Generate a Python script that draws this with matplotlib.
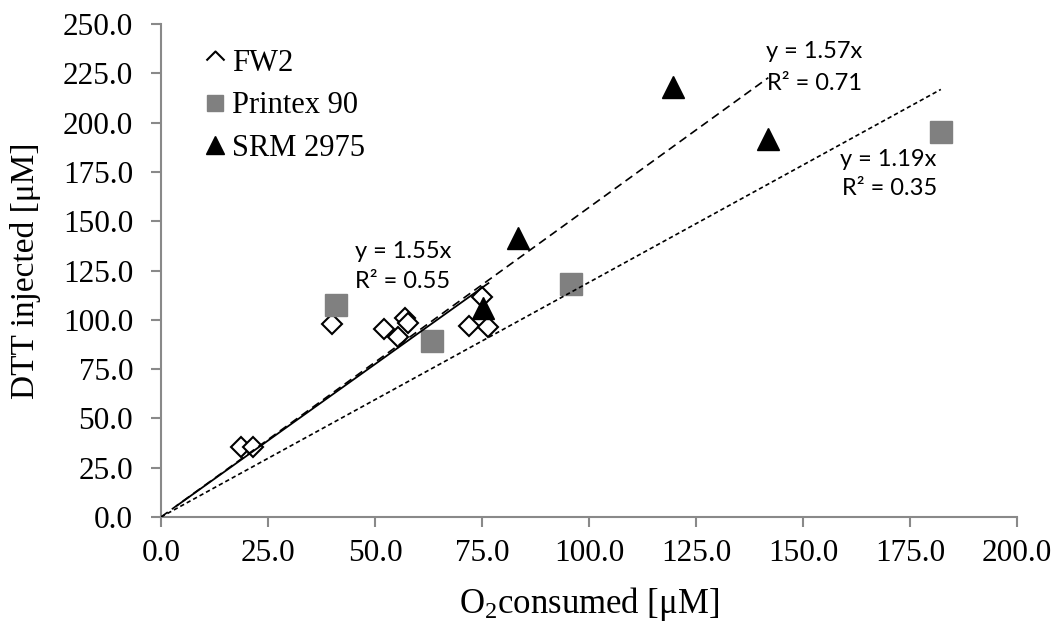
import numpy as np
import matplotlib
matplotlib.use('Agg')
import matplotlib.pyplot as plt
from matplotlib.lines import Line2D
from matplotlib.path import Path

# data
fw2_x = [18.8, 21.4, 40.0, 52.2, 55.4, 56.9, 57.8, 72.0, 75.1, 76.5]
fw2_y = [35.6, 35.3, 97.9, 95.3, 91.4, 100.8, 98.2, 97.0, 111.7, 96.5]

printex_x = [40.9, 63.3, 95.7, 182.2]
printex_y = [107.5, 89.2, 118.2, 195.2]

srm_x = [75.2, 83.4, 119.6, 141.9]
srm_y = [105.8, 141.3, 218.2, 191.5]

# trendlines through origin: slope, x start, x end
fw2_fit = (1.55, 3.7, 76.5)
printex_fit = (1.19, 0.0, 182.2)
srm_fit = (1.57, 0.0, 141.9)

serif = ['Liberation Serif', 'DejaVu Serif']
sans = ['Lato', 'DejaVu Sans']
axis_grey = '#898989'

plt.rcParams['mathtext.fontset'] = 'custom'
plt.rcParams['mathtext.rm'] = 'Liberation Serif'
plt.rcParams['mathtext.it'] = 'Liberation Serif:italic'

fig = plt.figure(figsize=(10.55, 6.22), dpi=100)
ax = fig.add_axes([0.1526, 0.1688, 0.8114, 0.7926])

ax.plot(fw2_x, fw2_y, linestyle='none', marker='D', ms=10.5, mfc='white',
        mec='black', mew=1.5, zorder=3)
ax.plot(printex_x, printex_y, linestyle='none', marker='s', ms=15.5,
        mfc='#808080', mec='#808080', zorder=3)
ax.plot(srm_x, srm_y, linestyle='none', marker='^', ms=15.5,
        mfc='black', mec='black', zorder=4)

# trendlines
k, a, b = fw2_fit
ax.plot([a, b], [k * a, k * b], color='black', lw=1.3, zorder=5)
k, a, b = srm_fit
ax.plot([a, b], [k * a, k * b], color='black', lw=1.2, dashes=(5, 3), zorder=5)
k, a, b = printex_fit
ax.plot([a, b], [k * a, k * b], color='black', lw=1.2, dashes=(2.6, 1.8), zorder=5)

# trendline labels
fs = 17
ax.text(56.5, 134.5, 'y = 1.55x', family=sans, fontsize=fs, ha='center', va='center')
ax.text(56.5, 119.3, 'R² = 0.55', family=sans, fontsize=fs, ha='center', va='center')
ax.text(152.6, 235.9, 'y = 1.57x', family=sans, fontsize=fs, ha='center', va='center')
ax.text(152.7, 219.9, 'R² = 0.71', family=sans, fontsize=fs, ha='center', va='center')
ax.text(169.9, 181.4, 'y = 1.19x', family=sans, fontsize=fs, ha='center', va='center')
ax.text(170.2, 166.7, 'R² = 0.35', family=sans, fontsize=fs, ha='center', va='center')

ax.set_xlim(0, 200)
ax.set_ylim(0, 250)
ax.set_xticks(np.arange(0, 201, 25))
ax.set_yticks(np.arange(0, 251, 25))
ax.set_xticklabels([f'{v:.1f}' for v in np.arange(0, 201, 25)])
ax.set_yticklabels([f'{v:.1f}' for v in np.arange(0, 251, 25)])

for side in ['top', 'right']:
    ax.spines[side].set_visible(False)
for side in ['left', 'bottom']:
    ax.spines[side].set_color(axis_grey)
    ax.spines[side].set_linewidth(1.5)
ax.tick_params(direction='out', length=7, width=1.5, color=axis_grey,
               labelsize=22.5)
ax.tick_params(axis='x', pad=9)
ax.tick_params(axis='y', pad=13)
for lab in ax.get_xticklabels() + ax.get_yticklabels():
    lab.set_family(serif)

ax.set_xlabel(r'O$_\mathrm{2}$consumed [μM]', family=serif, fontsize=25, va='center')
ax.set_ylabel('DTT injected [μM]', family=serif, fontsize=24, va='center')
ax.xaxis.set_label_coords(0.5, -0.1765)
ax.yaxis.set_label_coords(-0.158, 0.5)

# legend (FW2 marker shows only its upper half, as in the reference)
chevron = Path([(-1, 0), (0, 1), (1, 0)], [Path.MOVETO, Path.LINETO, Path.LINETO])
handles = [
    Line2D([], [], linestyle='none', marker=chevron, ms=13, mfc='none',
           mec='black', mew=1.5),
    Line2D([], [], linestyle='none', marker='s', ms=12, mfc='#808080', mec='#808080'),
    Line2D([], [], linestyle='none', marker='^', ms=13, mfc='black', mec='black'),
]
ax.legend(handles, ['FW2', 'Printex 90', 'SRM 2975'], loc='upper left',
          bbox_to_anchor=(0.0345, 0.975), frameon=False, handlelength=0.8,
          handletextpad=0.15, labelspacing=0.45, borderaxespad=0,
          prop={'family': serif, 'size': 22})

fig.savefig('out.png', dpi=100)
